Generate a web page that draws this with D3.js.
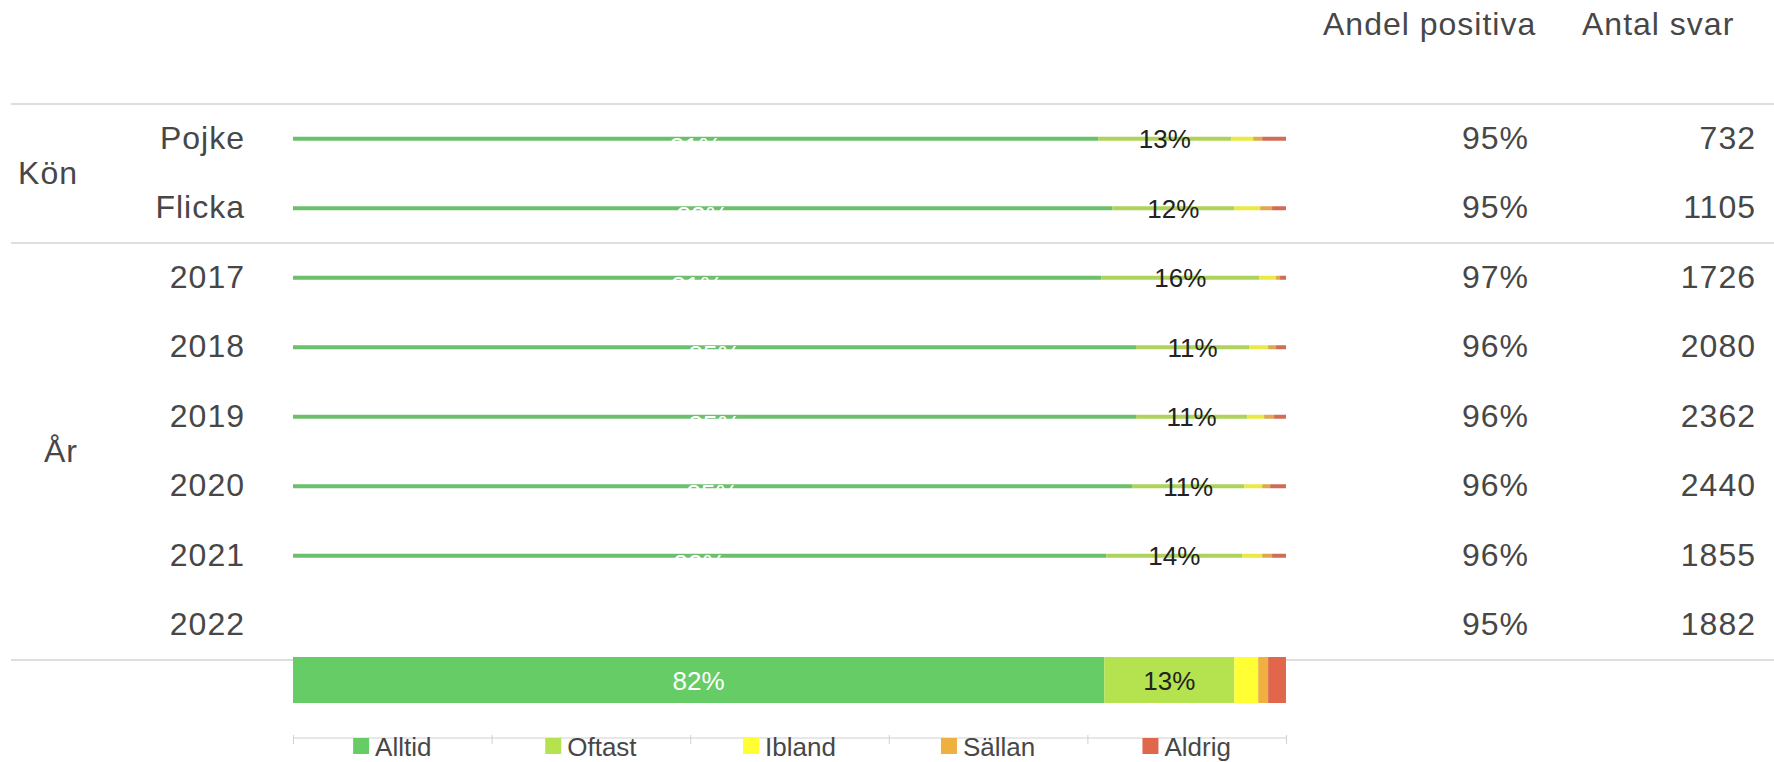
<!DOCTYPE html>
<html>
<head>
<meta charset="utf-8">
<script src="https://cdn.jsdelivr.net/npm/d3@7"></script>
<style>
  body { margin: 0; background: #fff; }
  svg { display: block; font-family: "Liberation Sans", Arial, sans-serif; }
</style>
</head>
<body>
<svg id="chart" width="1774" height="762"></svg>
<script>
const rows = ["Pojke", "Flicka", "2017", "2018", "2019", "2020", "2021", "2022"];
const groupOf = ["Kön", "Kön", "År", "År", "År", "År", "År", "År"];
const categories = ["Alltid", "Oftast", "Ibland", "Sällan", "Aldrig"];
const colors = ["#66cc66", "#b5e34f", "#ffff33", "#f0b040", "#e0664c"];

const alltid = [81.1, 82.5, 81.4, 84.9, 84.9, 84.5, 81.9, 81.7];
const oftast = [13.4, 12.3, 15.9, 11.4, 11.2, 11.3, 13.7, 13.1];
const ibland = [2.2, 2.6, 1.7, 1.9, 1.7, 1.8, 2.0, 2.4];
const sallan = [0.9, 1.2, 0.4, 0.8, 1.0, 0.8, 1.0, 1.0];
const aldrig = [2.4, 1.4, 0.6, 1.0, 1.2, 1.6, 1.4, 1.8];

const andelPositiva = [95, 95, 97, 96, 96, 96, 96, 95];
const antalSvar = [732, 1105, 1726, 2080, 2362, 2440, 1855, 1882];
const legendTicks = [0, 20, 40, 60, 80, 100];

const svg = d3.select("#chart");
const W = 1774;
const textColor = "#474747";

const x = d3.scaleLinear().domain([0, 100]).range([293, 1286]);
const y = d3.scaleBand().domain(rows).range([104, 660]);
const cy = (r) => y(r) + y.bandwidth() / 2;

const series = [alltid, oftast, ibland, sallan, aldrig];
const table = rows.map((r, i) => {
  let acc = 0;
  return categories.map((c, k) => {
    const v = series[k][i];
    const seg = { row: r, i, k, cat: c, x0: acc, x1: acc + v, v };
    acc += v;
    return seg;
  });
});
const last = rows.length - 1;

// separators between groups
const sepY = [y.range()[0], y(rows[2]), y.range()[1]];
svg.append("g").selectAll("line").data(sepY).join("line")
  .attr("x1", 11).attr("x2", W).attr("y1", (d) => d).attr("y2", (d) => d)
  .attr("stroke", "#dedede").attr("stroke-width", 2);

// header
const big = { "font-size": "32px", "letter-spacing": "1px", fill: textColor };
const applyAttrs = (sel, a) => { for (const k in a) sel.style(k, a[k]); return sel; };
applyAttrs(svg.append("text").attr("x", 1323).attr("y", 35).text("Andel positiva"), big);
applyAttrs(svg.append("text").attr("x", 1582).attr("y", 35).text("Antal svar"), big);

// group labels
const groups = Array.from(d3.group(rows, (r, i) => groupOf[i]), ([g, rs]) => ({ g, rs }));
const gl = svg.append("g").selectAll("text").data(groups).join("text")
  .attr("x", 78).attr("text-anchor", "end")
  .attr("y", (d) => (cy(d.rs[0]) + cy(d.rs[d.rs.length - 1])) / 2 + 10)
  .text((d) => d.g);
applyAttrs(gl, big);

// row labels
applyAttrs(svg.append("g").selectAll("text").data(rows).join("text")
  .attr("x", 245).attr("text-anchor", "end")
  .attr("y", (d) => cy(d) + 10).text((d) => d), big);

// values
applyAttrs(svg.append("g").selectAll("text").data(rows).join("text")
  .attr("x", 1529).attr("text-anchor", "end")
  .attr("y", (d) => cy(d) + 10).text((d, i) => andelPositiva[i] + "%"), big);
applyAttrs(svg.append("g").selectAll("text").data(rows).join("text")
  .attr("x", 1756).attr("text-anchor", "end")
  .attr("y", (d) => cy(d) + 10).text((d, i) => antalSvar[i]), big);

// bars: thin for all but the last row, which is drawn full below the table
const barTop = (d) => d.i === last ? y.range()[1] - 3 : cy(d.row) - 2;
const barH = (d) => d.i === last ? Math.round(y.bandwidth() * 0.66) : 4;
const barMid = (d) => barTop(d) + barH(d) / 2;

const segs = table.flat();
svg.append("g").selectAll("rect").data(segs).join("rect")
  .attr("x", (d) => x(d.x0))
  .attr("width", (d) => x(d.x1) - x(d.x0))
  .attr("y", barTop)
  .attr("height", barH)
  .attr("fill", (d) => d.i === last ? colors[d.k] : d3.interpolateRgb(colors[d.k], "#8a8a8a")(0.18));

// segment labels (only the two biggest)
const labelled = segs.filter((d) => d.k < 2);
svg.append("g").selectAll("text").data(labelled).join("text")
  .attr("x", (d) => x((d.x0 + d.x1) / 2))
  .attr("y", (d) => d.k === 0 && d.i !== last ? cy(d.row) + 17 : barMid(d) + 9.5)
  .attr("text-anchor", "middle")
  .style("font-size", "26px")
  .attr("fill", (d) => d.k === 0 ? "#ffffff" : "#222")
  .text((d) => Math.round(d.v) + "%");

// legend axis
const axisY = 738;
const ax = svg.append("g").attr("transform", `translate(0,${axisY})`)
  .call(d3.axisBottom(x).tickValues(legendTicks).tickSize(6).tickFormat(""));
ax.selectAll("line").attr("y1", -3).attr("stroke", "#d0d0d0");
ax.select(".domain").attr("stroke", "#d0d0d0").attr("d", `M${x(0)},0H${x(100)}`);

const leg = svg.append("g").selectAll("g").data(categories).join("g");
leg.append("text")
  .attr("y", 756)
  .style("font-size", "26px").attr("fill", textColor)
  .text((d) => d);
leg.each(function (d, k) {
  const g = d3.select(this);
  const tw = g.select("text").node().getComputedTextLength();
  const total = 16 + 6 + tw;
  const cx = x((legendTicks[k] + legendTicks[k + 1]) / 2);
  const left = cx - total / 2;
  g.append("rect").attr("x", left).attr("y", 738).attr("width", 16).attr("height", 16)
    .attr("fill", colors[k]);
  g.select("text").attr("x", left + 22);
});
</script>
</body>
</html>
